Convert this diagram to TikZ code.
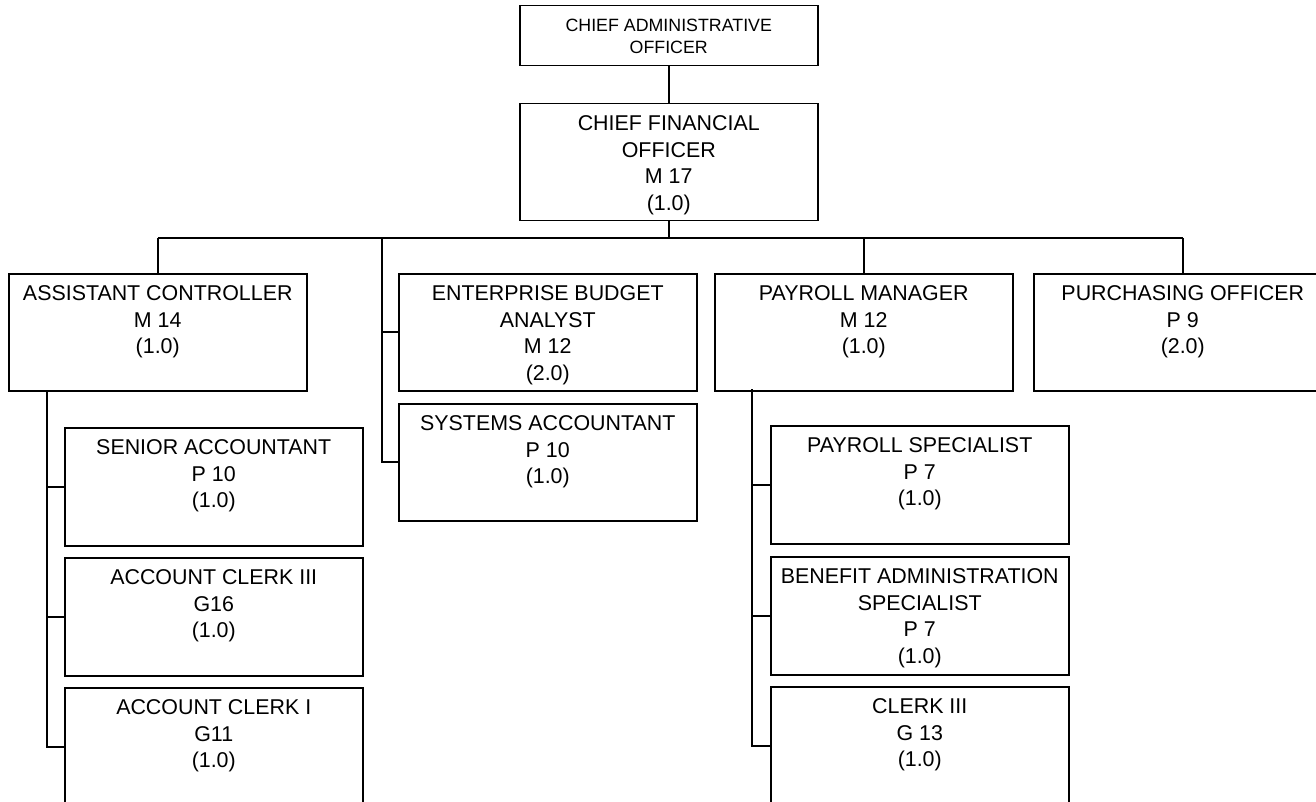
\documentclass[tikz,border=0pt]{standalone}
\usepackage{fontspec}
\setmainfont{Liberation Sans}
\begin{document}
\begin{tikzpicture}[x=0.5pt,y=-0.5pt,
  box/.style={draw, line width=0.75pt, anchor=north west, inner sep=0pt, minimum width=149pt},
  rowbox/.style={box, minimum height=58.5pt},
  colbox/.style={box, minimum height=59pt},
  txt/.style={anchor=north, align=center, inner sep=0pt, font=\fontsize{10.7}{13.25}\selectfont},
  smalltxt/.style={txt, font=\fontsize{8.9}{11}\selectfont},
  conn/.style={line width=0.8pt}]
\useasboundingbox (0,0) rectangle (1316,802);
\clip (0,0) rectangle (1316,802);

% top
\node[box, minimum height=30pt] (cao) at (519,5) {};
\node[smalltxt] (caot) at ([yshift=-6.8pt]cao.north) {CHIEF ADMINISTRATIVE\\OFFICER};
\node[rowbox] (cfo) at (519,103) {};
\node[txt] (cfot) at ([yshift=-6.2pt]cfo.north) {CHIEF FINANCIAL\\OFFICER\\M 17\\(1.0)};

% second row
\node[rowbox] (ac) at (8,273) {};
\node[txt] (act) at ([yshift=-6.2pt]ac.north) {ASSISTANT CONTROLLER\\M 14\\(1.0)};
\node[rowbox] (eba) at (398,273) {};
\node[txt] (ebat) at ([yshift=-6.2pt]eba.north) {ENTERPRISE BUDGET\\ANALYST\\M 12\\(2.0)};
\node[rowbox] (pm) at (714,273) {};
\node[txt] (pmt) at ([yshift=-6.2pt]pm.north) {PAYROLL MANAGER\\M 12\\(1.0)};
\node[rowbox] (po) at (1033,273) {};
\node[txt] (pot) at ([yshift=-6.2pt]po.north) {PURCHASING OFFICER\\P 9\\(2.0)};
\node[rowbox] (sa) at (398,403) {};
\node[txt] (sat) at ([yshift=-6.2pt]sa.north) {SYSTEMS ACCOUNTANT\\P 10\\(1.0)};

% left column
\node[colbox] (sen) at (64,427) {};
\node[txt] (sent) at ([yshift=-6.2pt]sen.north) {SENIOR ACCOUNTANT\\P 10\\(1.0)};
\node[colbox] (acc3) at (64,557) {};
\node[txt] (acc3t) at ([yshift=-6.2pt]acc3.north) {ACCOUNT CLERK III\\G16\\(1.0)};
\node[colbox] (acc1) at (64,687) {};
\node[txt] (acc1t) at ([yshift=-6.2pt]acc1.north) {ACCOUNT CLERK I\\G11\\(1.0)};

% right column
\node[colbox] (ps) at (770,425) {};
\node[txt] (pst) at ([yshift=-6.2pt]ps.north) {PAYROLL SPECIALIST\\P 7\\(1.0)};
\node[colbox] (bas) at (770,556) {};
\node[txt] (bast) at ([yshift=-6.2pt]bas.north) {BENEFIT ADMINISTRATION\\SPECIALIST\\P 7\\(1.0)};
\node[colbox] (cl3) at (770,686) {};
\node[txt] (cl3t) at ([yshift=-6.2pt]cl3.north) {CLERK III\\G 13\\(1.0)};

% connectors
\coordinate (bus) at (668,238);
\coordinate (br) at (382,238);
\coordinate (lc) at (47,391);
\coordinate (rc) at (752,389);
\draw[conn] (cao.south) -- (cfo.north);
\draw[conn] (cfo.south) -- (cfo.south |- bus);
\draw[conn] (ac.north |- bus) -- (po.north |- bus);
\draw[conn] (ac.north |- bus) -- (ac.north);
\draw[conn] (pm.north |- bus) -- (pm.north);
\draw[conn] (po.north |- bus) -- (po.north);
\draw[conn] (br) |- (sa.west);
\draw[conn] (br |- eba.west) -- (eba.west);
\draw[conn] (lc) |- (acc1.west);
\draw[conn] (lc |- sen.west) -- (sen.west);
\draw[conn] (lc |- acc3.west) -- (acc3.west);
\draw[conn] (rc) |- (cl3.west);
\draw[conn] (rc |- ps.west) -- (ps.west);
\draw[conn] (rc |- bas.west) -- (bas.west);
\end{tikzpicture}
\end{document}
